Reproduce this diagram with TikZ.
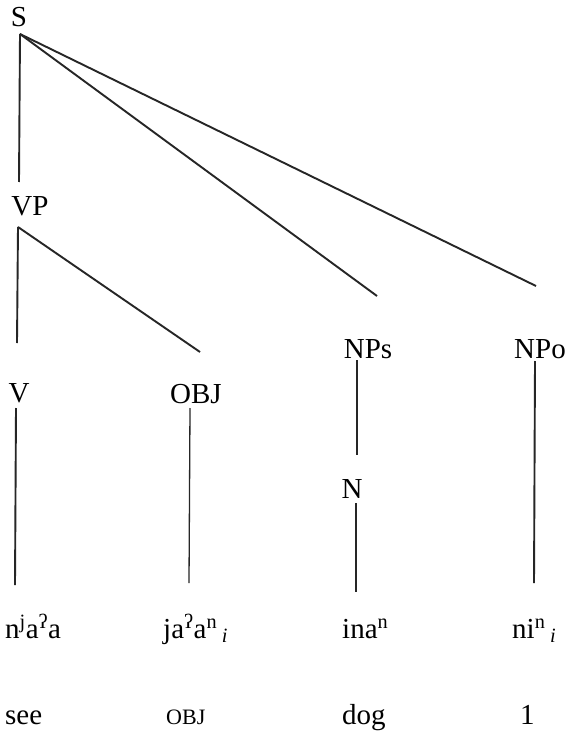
\documentclass[tikz,border=0pt]{standalone}
\usepackage{fontspec}
\setmainfont{Liberation Serif}
\newcommand{\upx}[1]{\textsuperscript{#1}}
\begin{document}
\begin{tikzpicture}[x=1pt,y=-1pt,
  lab/.style={inner sep=0pt, anchor=base, font=\fontsize{29}{32}\selectfont},
  word/.style={inner sep=0pt, anchor=base west, font=\fontsize{29}{32}\selectfont},
  smallcap/.style={inner sep=0pt, anchor=base west, font=\fontsize{22}{25}\selectfont},
  branch/.style={line width=1.9pt, draw=black!85},
  thinbranch/.style={line width=1.3pt, draw=black!85}]
\useasboundingbox[fill=white] (0,0) rectangle (566,743);
% category labels
\node[lab] (S) at (19,27) {S};
\node[lab] (VP) at (30,215) {VP};
\node[lab] (V) at (19,402) {V};
\node[lab] (OBJ) at (196,403) {OBJ};
\node[lab] (NPs) at (368,358) {NPs};
\node[lab] (NPo) at (540,358) {NPo};
\node[lab] (N) at (352,498) {N};
% branch end points
\coordinate (S-b) at (20,34);
\coordinate (VP-t) at (19,182);
\coordinate (NPs-t) at (377,296);
\coordinate (NPo-t) at (536,286);
\coordinate (VP-b) at (18,227);
\coordinate (V-t) at (17,343);
\coordinate (OBJ-t) at (200,352);
\coordinate (V-b) at (16,408);
\coordinate (OBJ-b) at (190,408);
\coordinate (NPs-b) at (357,360);
\coordinate (N-t) at (357,455);
\coordinate (N-b) at (356,503);
\coordinate (NPo-b) at (535,361);
\coordinate (w1-t) at (15,585);
\coordinate (w2-t) at (189,583);
\coordinate (w3-t) at (356,592);
\coordinate (w4-t) at (534,583);
% branches
\draw[branch] (S-b) -- (VP-t);
\draw[branch] (S-b) -- (NPs-t);
\draw[branch] (S-b) -- (NPo-t);
\draw[branch] (VP-b) -- (V-t);
\draw[branch] (VP-b) -- (OBJ-t);
\draw[branch] (V-b) -- (w1-t);
\draw[thinbranch] (OBJ-b) -- (w2-t);
\draw[branch] (NPs-b) -- (N-t);
\draw[branch] (N-b) -- (w3-t);
\draw[branch] (NPo-b) -- (w4-t);
% transcription
\node[word] (w1) at (5,638) {n\upx{j}a\upx{ʔ}a};
\node[word] (w2) at (163,638) {ja\upx{ʔ}a\upx{n}\,\textsubscript{\textit{i}}};
\node[word] (w3) at (342,638) {ina\upx{n}};
\node[word] (w4) at (512,638) {ni\upx{n}\,\textsubscript{\textit{i}}};
% glosses
\node[word] (g1) at (5,724) {see};
\node[smallcap] (g2) at (166,724) {OBJ};
\node[word] (g3) at (342,724) {dog};
\node[word] (g4) at (520,724) {1};
\end{tikzpicture}
\end{document}
